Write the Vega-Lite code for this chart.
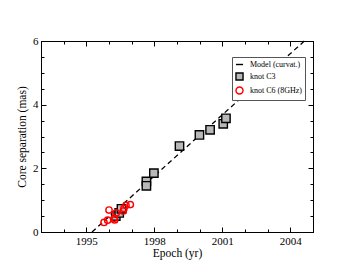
{
  "$schema": "https://vega.github.io/schema/vega-lite/v6.json",
  "width": 272,
  "height": 191,
  "autosize": "none",
  "padding": {"left": 41, "top": 41, "right": 40, "bottom": 42},
  "background": "white",
  "config": {
    "font": "Liberation Serif",
    "view": {"stroke": "black", "strokeWidth": 1},
    "axis": {
      "domainColor": "black",
      "domainWidth": 1,
      "tickColor": "black",
      "tickWidth": 1,
      "grid": false,
      "labelFont": "Liberation Serif",
      "labelFontSize": 11,
      "labelColor": "black",
      "titleFont": "Liberation Serif",
      "titleFontSize": 11.5,
      "titleFontWeight": "normal",
      "titleColor": "black",
      "format": "d"
    }
  },
  "datasets": {
    "model": [
      {"epoch": 1995.25, "sep": 0},
      {"epoch": 2004.62, "sep": 6}
    ],
    "c3": [
      {"series": "knot C3", "epoch": 1996.3, "sep": 0.5},
      {"series": "knot C3", "epoch": 1996.45, "sep": 0.6},
      {"series": "knot C3", "epoch": 1996.55, "sep": 0.73},
      {"series": "knot C3", "epoch": 1997.65, "sep": 1.59},
      {"series": "knot C3", "epoch": 1997.65, "sep": 1.45},
      {"series": "knot C3", "epoch": 1997.98, "sep": 1.85},
      {"series": "knot C3", "epoch": 1999.11, "sep": 2.7},
      {"series": "knot C3", "epoch": 1999.99, "sep": 3.05},
      {"series": "knot C3", "epoch": 2000.46, "sep": 3.21},
      {"series": "knot C3", "epoch": 2001.04, "sep": 3.4},
      {"series": "knot C3", "epoch": 2001.16, "sep": 3.57}
    ],
    "c6": [
      {"series": "knot C6 (8GHz)", "epoch": 1995.78, "sep": 0.3},
      {"series": "knot C6 (8GHz)", "epoch": 1995.94, "sep": 0.37},
      {"series": "knot C6 (8GHz)", "epoch": 1996.0, "sep": 0.69},
      {"series": "knot C6 (8GHz)", "epoch": 1996.23, "sep": 0.43},
      {"series": "knot C6 (8GHz)", "epoch": 1996.25, "sep": 0.38},
      {"series": "knot C6 (8GHz)", "epoch": 1996.32, "sep": 0.6},
      {"series": "knot C6 (8GHz)", "epoch": 1996.63, "sep": 0.66},
      {"series": "knot C6 (8GHz)", "epoch": 1996.66, "sep": 0.74},
      {"series": "knot C6 (8GHz)", "epoch": 1996.75, "sep": 0.84},
      {"series": "knot C6 (8GHz)", "epoch": 1996.94, "sep": 0.86}
    ]
  },
  "layer": [
    {
      "data": {"name": "model"},
      "mark": {"type": "line", "color": "black", "strokeWidth": 1.3, "strokeDash": [5, 3.5]},
      "encoding": {
        "x": {
          "field": "epoch", "type": "quantitative",
          "scale": {"domain": [1993, 2005], "nice": false, "zero": false},
          "axis": {
            "orient": "bottom",
            "title": "Epoch (yr)",
            "titlePadding": 1,
            "values": [1995, 1998, 2001, 2004],
            "tickSize": -5,
            "labelPadding": 8,
            "labelFlush": false
          }
        },
        "y": {
          "field": "sep", "type": "quantitative",
          "scale": {"domain": [0, 6], "nice": false},
          "axis": {
            "orient": "left",
            "title": "Core separation (mas)",
            "titlePadding": 5,
            "values": [0, 2, 4, 6],
            "tickSize": -5,
            "labelPadding": 8,
            "labelFlush": false
          }
        }
      }
    },
    {
      "data": {"name": "c3"},
      "mark": {"type": "point", "strokeWidth": 1.4, "opacity": 1, "size": 70},
      "encoding": {
        "x": {
          "field": "epoch", "type": "quantitative",
          "axis": {
            "orient": "bottom",
            "title": null,
            "labels": false,
            "domain": false,
            "values": [1993, 1994, 1995, 1996, 1997, 1998, 1999, 2000, 2001, 2002, 2003, 2004, 2005],
            "tickSize": -3
          }
        },
        "y": {
          "field": "sep", "type": "quantitative",
          "axis": {
            "orient": "left",
            "title": null,
            "labels": false,
            "domain": false,
            "values": [0, 0.5, 1, 1.5, 2, 2.5, 3, 3.5, 4, 4.5, 5, 5.5, 6],
            "tickSize": -3
          }
        },
        "shape": {
          "field": "series", "type": "nominal",
          "scale": {"domain": ["Model (curvat.)", "knot C3", "knot C6 (8GHz)"], "range": ["stroke", "square", "circle"]},
          "legend": {
            "title": null,
            "orient": "none",
            "legendX": 191,
            "legendY": 16,
            "fillColor": "white",
            "strokeColor": "#555555",
            "padding": 3,
            "labelFont": "Liberation Serif",
            "labelFontSize": 8,
            "labelColor": "black",
            "labelOffset": 6,
            "rowPadding": 1,
            "symbolSize": 50,
            "symbolStrokeWidth": 1.4,
            "encode": {
              "symbols": {
                "update": {
                  "strokeDash": {"signal": "datum.value === 'Model (curvat.)' ? [3, 2] : [1, 0]"},
                  "size": {"signal": "datum.value === 'Model (curvat.)' ? 150 : 50"}
                }
              }
            }
          }
        },
        "stroke": {
          "field": "series", "type": "nominal",
          "scale": {"domain": ["Model (curvat.)", "knot C3", "knot C6 (8GHz)"], "range": ["black", "black", "red"]},
          "legend": {"title": null}
        },
        "fill": {
          "field": "series", "type": "nominal",
          "scale": {"domain": ["Model (curvat.)", "knot C3", "knot C6 (8GHz)"], "range": ["transparent", "#b8b8b8", "transparent"]},
          "legend": {"title": null}
        }
      }
    },
    {
      "data": {"name": "c6"},
      "mark": {"type": "point", "strokeWidth": 1.4, "opacity": 1, "size": 40},
      "encoding": {
        "x": {
          "field": "epoch", "type": "quantitative",
          "axis": {
            "orient": "top",
            "title": null,
            "labels": false,
            "values": [1995, 1998, 2001, 2004],
            "tickSize": -5
          }
        },
        "y": {
          "field": "sep", "type": "quantitative",
          "axis": {
            "orient": "right",
            "title": null,
            "labels": false,
            "values": [0, 2, 4, 6],
            "tickSize": -5
          }
        },
        "shape": {"field": "series", "type": "nominal"},
        "stroke": {"field": "series", "type": "nominal"},
        "fill": {"field": "series", "type": "nominal"}
      }
    },
    {
      "data": {"name": "model"},
      "mark": {"type": "line", "opacity": 0},
      "encoding": {
        "x": {
          "field": "epoch", "type": "quantitative",
          "axis": {
            "orient": "top",
            "title": null,
            "labels": false,
            "domain": false,
            "values": [1993, 1994, 1995, 1996, 1997, 1998, 1999, 2000, 2001, 2002, 2003, 2004, 2005],
            "tickSize": -3
          }
        },
        "y": {
          "field": "sep", "type": "quantitative",
          "axis": {
            "orient": "right",
            "title": null,
            "labels": false,
            "domain": false,
            "values": [0, 0.5, 1, 1.5, 2, 2.5, 3, 3.5, 4, 4.5, 5, 5.5, 6],
            "tickSize": -3
          }
        }
      }
    }
  ],
  "resolve": {"axis": {"x": "independent", "y": "independent"}}
}
